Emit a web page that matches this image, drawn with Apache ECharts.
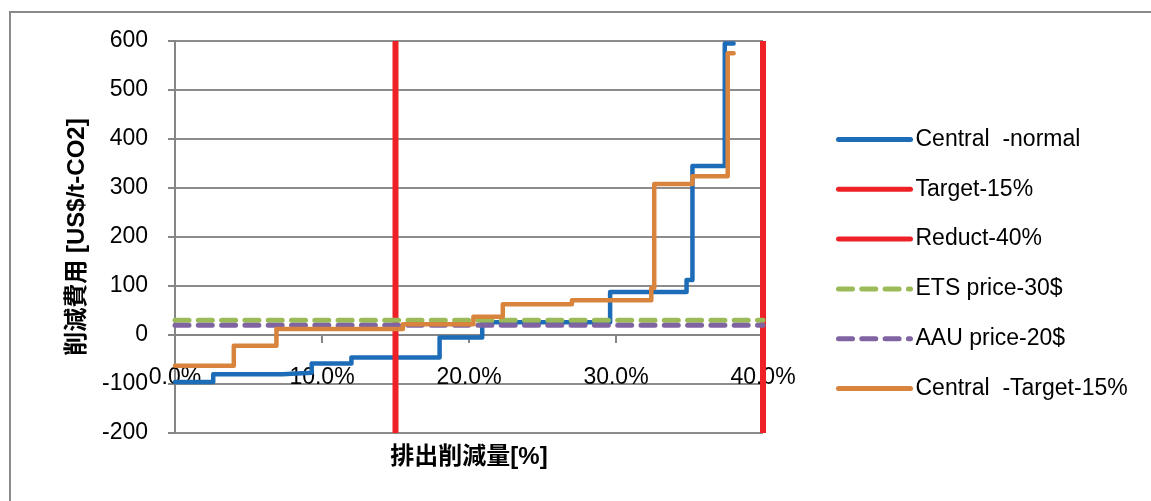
<!DOCTYPE html>
<html>
<head>
<meta charset="utf-8">
<script src="https://cdn.jsdelivr.net/npm/echarts@6/dist/echarts.min.js"></script>
<style>
html,body{margin:0;padding:0;background:#fff;}
#c{width:1151px;height:501px;}
</style>
</head>
<body>
<div id="c"></div>
<script>
// ---- data ----
const seriesNames = ["Central  -normal", "Target-15%", "Reduct-40%", "ETS price-30$", "AAU price-20$", "Central  -Target-15%"];
// step curves: [reduction %, cost US$/t-CO2] (value holds until next point)
const centralNormal = [[0, -96], [2.6, -80], [7.3, -77], [9.3, -58], [12.0, -46], [18.0, -5], [20.9, 26], [29.6, 88], [34.8, 112], [35.2, 345], [37.4, 595], [38.0, 595]];
const centralTarget = [[0, -63], [4.0, -22], [6.9, 12], [15.5, 22], [20.3, 37], [22.3, 63], [27.0, 71], [32.4, 96], [32.6, 308], [35.2, 324], [37.6, 575], [38.0, 575]];
const target15 = [[15, -200], [15, 600]];
const reduct40 = [[40, -200], [40, 600]];
const etsPrice = [[0, 30], [40, 30]];
const aauPrice = [[0, 20], [40, 20]];
const xTicks = [0, 10, 20, 30, 40];
const yTicks = [-200, -100, 0, 100, 200, 300, 400, 500, 600];
const xTitle = "排出削減量[%]";
const yTitle = "削減費用 [US$/t-CO2]";

const FONT = "'Liberation Sans', Arial, sans-serif";
const CJK = "'Liberation Sans', 'Noto Sans CJK JP', sans-serif";
const colors = ["#1c6cb8", "#ee2226", "#ee2226", "#9bbb59", "#8064a2", "#d9843d"];

const chart = echarts.init(document.getElementById('c'), null, {renderer: 'canvas'});
const stepLine = (name, data, color) => ({
  name, type: 'line', data, step: 'end', symbol: 'none', clip: false,
  lineStyle: {color, width: 4.5, cap: 'round', join: 'round'},
  itemStyle: {color}, emphasis: {disabled: true}, animation: false
});
const straight = (name, data, color, dashed, width) => ({
  name, type: 'line', data, symbol: 'none', clip: false,
  lineStyle: {color, width, type: dashed ? [14, 9.3] : 'solid', cap: dashed ? 'round' : 'butt'},
  itemStyle: {color}, emphasis: {disabled: true}, animation: false
});

chart.setOption({
  backgroundColor: '#ffffff',
  animation: false,
  grid: {left: 175, right: 388, top: 41, bottom: 68, containLabel: false, outerBoundsMode: 'none'},
  xAxis: {
    type: 'value', min: xTicks[0], max: xTicks[xTicks.length - 1], interval: 10,
    // axis drawn through the zero level of the y axis (98 px above the plot bottom)
    offset: -98,
    axisLine: {onZero: false, lineStyle: {color: '#868686', width: 2}},
    axisTick: {show: true, length: 8, inside: false, lineStyle: {color: '#868686', width: 2}},
    axisLabel: {margin: 31, fontFamily: FONT, fontSize: 23, color: '#000',
      formatter: v => v.toFixed(1) + '%'},
    splitLine: {show: false},
    name: xTitle, nameLocation: 'middle', nameGap: 110,
    nameTextStyle: {fontFamily: CJK, fontSize: 24, fontWeight: 'bold', color: '#000'}
  },
  yAxis: {
    type: 'value', min: yTicks[0], max: yTicks[yTicks.length - 1], interval: 100,
    axisLine: {show: true, onZero: false, lineStyle: {color: '#868686', width: 2}},
    axisTick: {show: true, length: 7, lineStyle: {color: '#868686', width: 2}},
    axisLabel: {margin: 27, fontFamily: FONT, fontSize: 23, color: '#000'},
    splitLine: {show: true, lineStyle: {color: '#8c8c8c', width: 2}},
    name: yTitle, nameLocation: 'middle', nameGap: 86, nameRotate: 90,
    nameTextStyle: {fontFamily: CJK, fontSize: 24, fontWeight: 'bold', color: '#000'}
  },
  legend: {
    orient: 'vertical', left: 836, top: 128, padding: 0,
    itemWidth: 72, itemHeight: 14, itemGap: 26.8,
    data: seriesNames,
    lineStyle: {width: 5, cap: 'round'},
    itemStyle: {opacity: 0},
    textStyle: {fontFamily: FONT, fontSize: 23, color: '#000', lineHeight: 22},
    selectedMode: false
  },
  series: [
    stepLine(seriesNames[0], centralNormal, colors[0]),
    straight(seriesNames[1], target15, colors[1], false, 6),
    straight(seriesNames[2], reduct40, colors[2], false, 6),
    straight(seriesNames[3], etsPrice, colors[3], true, 5),
    straight(seriesNames[4], aauPrice, colors[4], true, 5),
    stepLine(seriesNames[5], centralTarget, colors[5])
  ],
  graphic: [
    {type: 'polyline', silent: true, shape: {points: [[10, 501], [10, 12], [1151, 12]]},
     style: {stroke: '#8a8a8a', lineWidth: 2, fill: null}}
  ]
});
</script>
</body>
</html>
